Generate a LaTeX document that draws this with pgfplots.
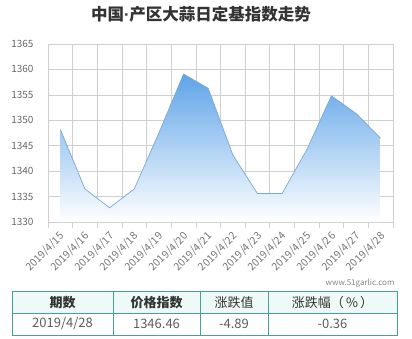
\documentclass[border=0pt]{standalone}
\usepackage{pgfplots}
\pgfplotsset{compat=1.18}
\usepackage{fontspec}
\setmainfont{Noto Sans CJK SC}
\newfontfamily\dotfont{Liberation Sans}
\definecolor{gridc}{HTML}{CFCFCF}
\definecolor{txtc}{HTML}{666666}
\definecolor{titlec}{HTML}{333333}
\definecolor{linec}{HTML}{7AA8DA}
\definecolor{fillc}{HTML}{5FA4E8}
\definecolor{tealc}{HTML}{4A9E94}
\definecolor{headbg}{HTML}{EEFAF7}
\begin{document}
\begin{tikzpicture}[x=1pt,y=1pt]
\path[use as bounding box] (0,0) rectangle (412,-339);
\node[font=\bfseries\fontsize{16.5}{18}\selectfont, text=titlec] at (201,-14) {中国{\dotfont\bfseries ·}产区大蒜日定基指数走势};
\begin{axis}[
  at={(48pt,-222pt)}, anchor=south west,
  scale only axis, width=345pt, height=178pt,
  xmin=-0.5, xmax=13.5, ymin=1330, ymax=1365,
  ytick={1330,1335,...,1365},
  xtick={0,...,13},
  xticklabels={2019/4/15,2019/4/16,2019/4/17,2019/4/18,2019/4/19,2019/4/20,2019/4/21,2019/4/22,2019/4/23,2019/4/24,2019/4/25,2019/4/26,2019/4/27,2019/4/28},
  minor xtick={-0.5,0.5,...,13.5},
  major tick length=0pt, minor tick length=6pt,
  tick align=outside, tick pos=left,
  xminorgrids=true, ymajorgrids=true,
  grid style={gridc, line width=0.6pt},
  minor grid style={gridc, line width=0.6pt},
  minor tick style={gridc, line width=0.6pt},
  axis line style={draw=none},
  /pgf/number format/assume math mode=true,
  /pgf/number format/set thousands separator={},
  yticklabel style={font=\fontsize{10}{11}\selectfont, text=txtc, xshift=-11pt},
  xticklabel style={font=\fontsize{10.5}{11}\selectfont, text=txtc!90, xshift=5pt, yshift=-10pt, rotate=45, anchor=east},
  clip=false,
]
\addplot[draw=none, mark=none, top color=fillc, bottom color=white, middle color=fillc!50!white] coordinates {
(0,1330) (0,1348.2) (1,1336.5) (2,1332.8) (3,1336.5) (4,1347.5) (5,1359.1) (6,1356.3) (7,1343.2) (8,1335.6) (9,1335.6) (10,1344.2) (11,1354.8) (12,1351.35) (13,1346.46) (13,1330)};
\addplot[linec, line width=0.7pt, mark=none] coordinates {
(0,1348.2) (1,1336.5) (2,1332.8) (3,1336.5) (4,1347.5) (5,1359.1) (6,1356.3) (7,1343.2) (8,1335.6) (9,1335.6) (10,1344.2) (11,1354.8) (12,1351.35) (13,1346.46)};
\end{axis}
\node[anchor=east, font=\fontsize{8}{9}\selectfont, text=txtc!80] at (398,-283) {www.51garlic.com};
\fill[headbg] (12,-291.5) rectangle (397,-313);
\draw[tealc, line width=0.9pt] (12,-291.5) rectangle (397,-335);
\draw[tealc, line width=0.9pt] (12,-313) -- (397,-313);
\foreach \xx in {113,200,268} \draw[tealc, line width=0.9pt] (\xx,-291.5) -- (\xx,-335);
\begin{scope}[every node/.style={font=\fontsize{13}{15}\selectfont}]
\node[text=titlec, font=\bfseries\fontsize{13}{15}\selectfont] at (62.5,-302.3) {期数};
\node[text=titlec, font=\bfseries\fontsize{13}{15}\selectfont] at (156.5,-302.3) {价格指数};
\node[text=titlec] at (234,-302.3) {涨跌值};
\node[text=titlec] at (332.5,-302.3) {涨跌幅（\,\%\,）};
\node[text=txtc!90!black] at (62.5,-324) {2019/4/28};
\node[text=txtc!90!black] at (156.5,-324) {1346.46};
\node[text=txtc!90!black] at (234,-324) {-4.89};
\node[text=txtc!90!black] at (332.5,-324) {-0.36};
\end{scope}
\end{tikzpicture}
\end{document}
